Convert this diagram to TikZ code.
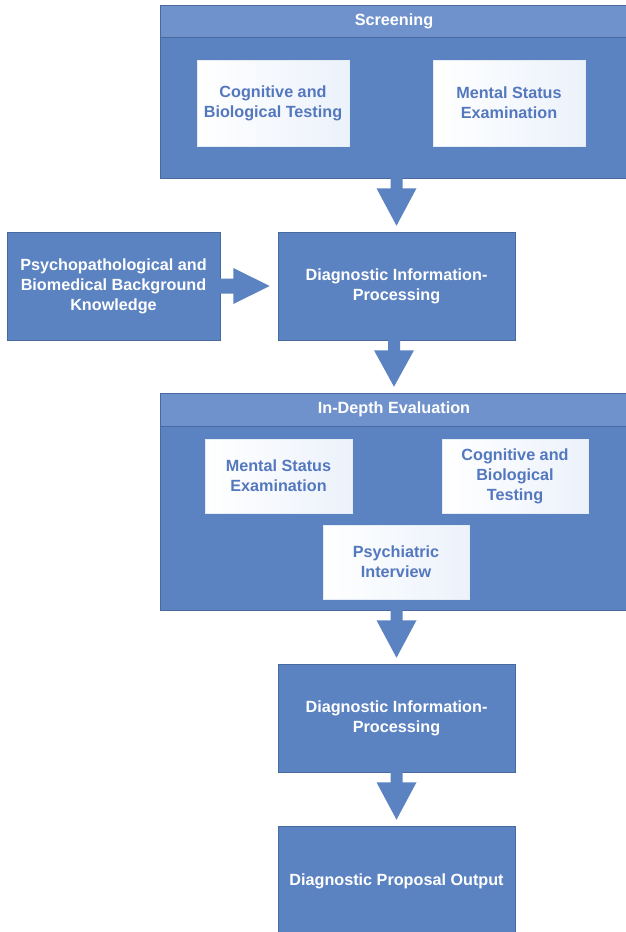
\documentclass[tikz,border=0pt]{standalone}
\usepackage{fontspec}
\setmainfont{Liberation Sans}
\usetikzlibrary{calc}
\definecolor{mainblue}{RGB}{91,130,193}
\definecolor{headblue}{RGB}{112,146,204}
\definecolor{edgeblue}{RGB}{72,106,160}
\definecolor{inktext}{RGB}{84,120,190}
\definecolor{paleblue}{RGB}{236,242,251}
\tikzset{
  bigbox/.style={draw=edgeblue, line width=0.6pt, fill=mainblue, rectangle, inner sep=0pt},
  headband/.style={draw=edgeblue, line width=0.6pt, fill=headblue, rectangle, inner sep=0pt, text=white,
    font=\bfseries\fontsize{16.2}{20}\selectfont},
  procbox/.style={draw=edgeblue, line width=0.6pt, fill=mainblue, rectangle, inner sep=0pt, text=white,
    align=center, font=\bfseries\fontsize{16.2}{20}\selectfont},
  subbox/.style={draw=white!85!mainblue, line width=0.5pt, left color=white, right color=paleblue,
    rectangle, inner sep=0pt, text=inktext, align=center, font=\bfseries\fontsize{16.2}{20}\selectfont},
  flow/.style={fill=mainblue, draw=none}
}
\newcommand\vflow[2]{%
  \fill[flow] ($(#1.south -| #2.north)+(-6,-1)$) -- ($(#1.south -| #2.north)+(-6,10)$)
    -- ($(#1.south -| #2.north)+(-20,10)$) -- ($(#2.north)+(0,-6)$)
    -- ($(#1.south -| #2.north)+(20,10)$) -- ($(#1.south -| #2.north)+(6,10)$)
    -- ($(#1.south -| #2.north)+(6,-1)$) -- cycle;}
\begin{document}
\begin{tikzpicture}[x=1pt,y=-1pt]
\useasboundingbox (0,0) rectangle (626,932);
% Screening
\node[bigbox, minimum width=468, minimum height=173] (scr) at (394,91.5) {};
\node[headband, minimum width=468, minimum height=32] (scrh) at (394,21) {Screening};
\node[subbox, minimum width=152, minimum height=86] (cog1) at (273,103) {Cognitive and\\Biological Testing};
\node[subbox, minimum width=152, minimum height=86] (mse1) at (509,103) {Mental Status\\Examination};
% Diagnostic 1 and background knowledge
\node[procbox, minimum width=237, minimum height=108] (diag1) at (396.5,286) {Diagnostic Information-\\Processing};
\node[procbox, minimum width=213, minimum height=108] (know) at (113.5,286) {Psychopathological and\\Biomedical Background\\Knowledge};
% In-depth evaluation
\node[bigbox, minimum width=468, minimum height=217] (ide) at (394,501.5) {};
\node[headband, minimum width=468, minimum height=33] (ideh) at (394,409.5) {In-Depth Evaluation};
\node[subbox, minimum width=147, minimum height=74] (mse2) at (278.5,476) {Mental Status\\Examination};
\node[subbox, minimum width=146, minimum height=74] (cog2) at (515,476) {Cognitive and\\Biological\\Testing};
\node[subbox, minimum width=146, minimum height=74] (psy) at (396,562) {Psychiatric\\Interview};
% Diagnostic 2 and output
\node[procbox, minimum width=237, minimum height=108] (diag2) at (396.5,718) {Diagnostic Information-\\Processing};
\node[procbox, minimum width=237, minimum height=110] (out) at (396.5,881) {Diagnostic Proposal Output};
% arrows
\vflow{scr}{diag1}
\vflow{diag1}{ide}
\vflow{ide}{diag2}
\vflow{diag2}{out}
\fill[flow] ($(know.east)+(-1,-7.5)$) -- ($(know.east)+(13,-7.5)$) -- ($(know.east)+(13,-18)$)
  -- ($(diag1.west)+(-8,0)$) -- ($(know.east)+(13,18)$) -- ($(know.east)+(13,7.5)$)
  -- ($(know.east)+(-1,7.5)$) -- cycle;
\end{tikzpicture}
\end{document}
